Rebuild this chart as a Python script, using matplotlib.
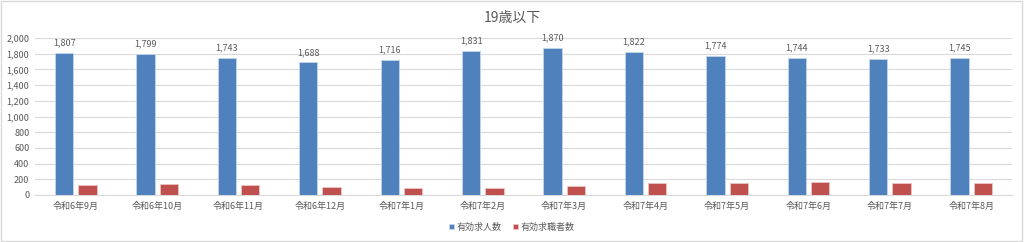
import matplotlib.pyplot as plt
import numpy as np

months = ['令和6年9月', '令和6年10月', '令和6年11月', '令和6年12月', '令和7年1月', '令和7年2月',
          '令和7年3月', '令和7年4月', '令和7年5月', '令和7年6月', '令和7年7月', '令和7年8月']
openings = [1807, 1799, 1743, 1688, 1716, 1831, 1870, 1822, 1774, 1744, 1733, 1745]
seekers = [131, 135, 122, 106, 93, 93, 118, 148, 157, 170, 157, 157]
series_names = ['有効求人数', '有効求職者数']

plt.rcParams['font.family'] = ['Noto Sans CJK JP', 'DejaVu Sans']

BLUE = '#4F81BD'
RED = '#C0504D'
GRAY = '#595959'

fig = plt.figure(figsize=(10.24, 2.42), dpi=100)
ax = fig.add_axes([35 / 1024, 1 - 195 / 242, 977 / 1024, 157 / 242])

x = np.arange(len(months))
w = 0.225
off = 0.143
b1 = ax.bar(x - off, openings, w, color=BLUE, edgecolor='#c5d5ea', linewidth=0.6,
            label=series_names[0], zorder=3)
b2 = ax.bar(x + off, seekers, w, color=RED, edgecolor='#ecc6c5', linewidth=0.6,
            label=series_names[1], zorder=3)

for rect, v in zip(b1, openings):
    ax.text(rect.get_x() + rect.get_width() / 2, v + 70, f'{v:,}', ha='center',
            va='bottom', fontsize=6.5, color=GRAY)

ax.set_xlim(-0.5, len(months) - 0.5)
ax.set_ylim(0, 2000)
ax.set_yticks(range(0, 2001, 200))
ax.set_yticklabels([f'{t:,}' for t in range(0, 2001, 200)])
ax.set_xticks(x)
ax.set_xticklabels(months)
ax.tick_params(axis='both', length=0, labelsize=6.5, labelcolor=GRAY)
ax.tick_params(axis='y', pad=4)
ax.tick_params(axis='x', pad=5)
ax.yaxis.grid(True, color='#d9d9d9', linewidth=0.8, zorder=0)
for s in ['top', 'right', 'left']:
    ax.spines[s].set_visible(False)
ax.spines['bottom'].set_color('#d9d9d9')

fig.text(0.5, 1 - 18 / 242, '19歳以下', ha='center', va='center', fontsize=10, color=GRAY)

fig.legend(handles=[b1, b2], loc='center', bbox_to_anchor=(0.5, 1 - 227 / 242), ncol=2,
           frameon=False, fontsize=6.5, handlelength=0.5, handleheight=0.5,
           handletextpad=0.3, columnspacing=1.3, labelcolor=GRAY)

fig.patches.append(plt.Rectangle((0.001, 0.003), 0.997, 0.993, transform=fig.transFigure,
                                 fill=False, edgecolor='#d9d9d9', linewidth=1))

fig.savefig('out.png', dpi=100)
